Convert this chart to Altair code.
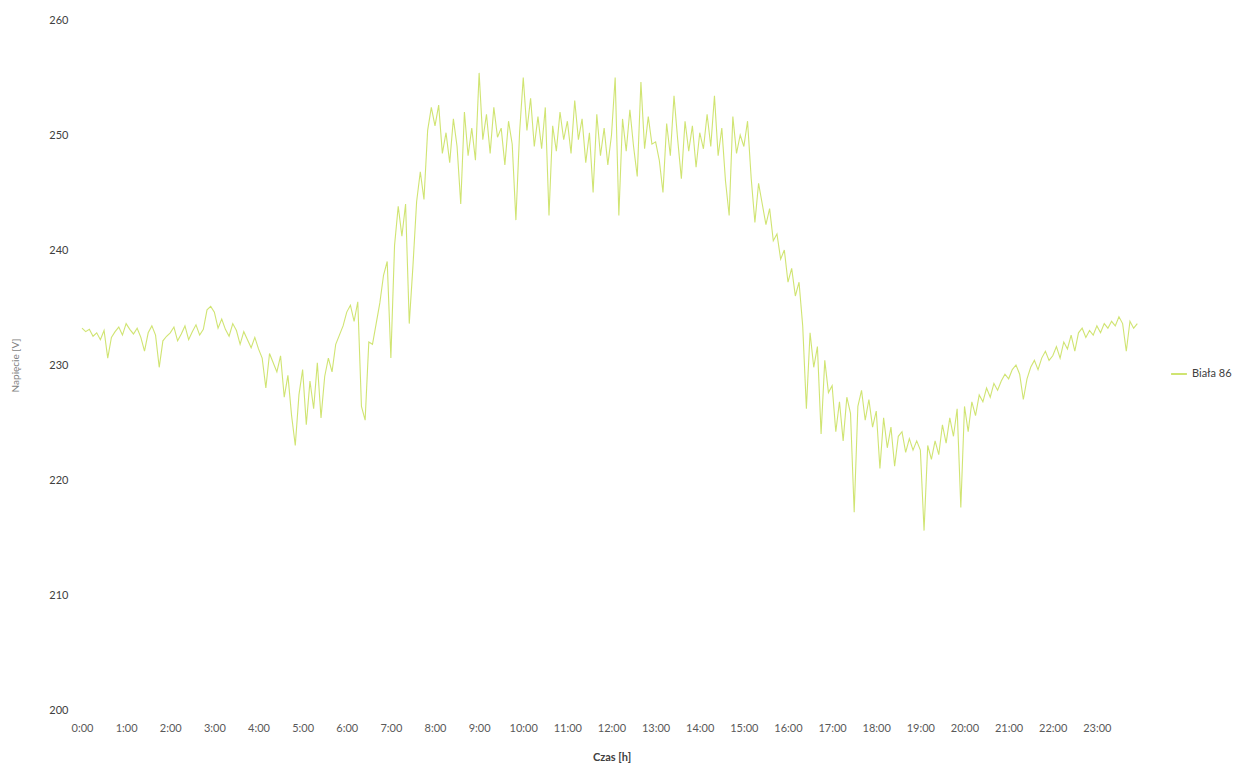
import altair as alt
import pandas as pd

# 5-minute readings, one list of 12 values per hour (0:00 ... 23:55)
h00 = [233.2, 232.9, 233.1, 232.5, 232.8, 232.2, 233.0, 230.6, 232.4, 232.9, 233.3, 232.6]
h01 = [233.6, 233.1, 232.7, 233.2, 232.4, 231.2, 232.8, 233.4, 232.6, 229.8, 232.1, 232.5]
h02 = [232.8, 233.3, 232.1, 232.7, 233.4, 232.2, 232.9, 233.5, 232.6, 233.1, 234.8, 235.1]
h03 = [234.6, 233.2, 234.0, 233.1, 232.5, 233.6, 233.0, 231.8, 232.9, 232.2, 231.5, 232.4]
h04 = [231.4, 230.6, 228.0, 231.0, 230.2, 229.4, 230.8, 227.2, 229.1, 225.6, 223.0, 227.4]
h05 = [229.6, 224.8, 228.6, 226.2, 230.2, 225.4, 229.0, 230.6, 229.4, 231.8, 232.6, 233.4]
h06 = [234.6, 235.2, 233.8, 235.5, 226.4, 225.2, 232.0, 231.8, 233.6, 235.4, 237.8, 239.0]
h07 = [230.6, 240.4, 243.8, 241.2, 244.0, 233.6, 238.6, 244.2, 246.8, 244.4, 250.4, 252.4]
h08 = [250.8, 252.6, 248.4, 250.2, 247.6, 251.4, 249.0, 244.0, 252.0, 248.2, 250.6, 247.8]
h09 = [255.4, 249.6, 251.8, 248.4, 252.4, 249.8, 250.6, 247.4, 251.2, 249.2, 242.6, 250.2]
h10 = [255.0, 250.4, 253.2, 249.0, 251.6, 248.8, 252.4, 243.0, 250.8, 248.6, 252.0, 249.6]
h11 = [251.2, 248.4, 253.0, 249.6, 251.4, 247.6, 250.2, 245.0, 251.8, 248.2, 250.6, 247.4]
h12 = [250.0, 255.0, 243.0, 251.4, 248.6, 252.2, 249.0, 246.4, 254.6, 248.8, 251.6, 249.2]
h13 = [249.4, 247.8, 245.0, 251.0, 248.2, 253.4, 249.6, 246.2, 251.2, 248.6, 250.8, 247.2]
h14 = [250.2, 248.8, 251.8, 249.0, 253.4, 248.2, 250.6, 246.0, 243.0, 251.6, 248.4, 250.0]
h15 = [249.0, 251.2, 246.2, 242.4, 245.8, 244.0, 242.2, 243.6, 240.8, 241.4, 239.2, 240.0]
h16 = [237.2, 238.4, 236.0, 237.2, 233.4, 226.2, 232.8, 229.8, 231.6, 224.0, 230.4, 227.6]
h17 = [228.2, 224.2, 226.8, 223.4, 227.2, 225.8, 217.2, 226.4, 227.8, 225.2, 227.0, 224.6]
h18 = [226.0, 221.0, 225.4, 222.8, 224.6, 221.2, 223.8, 224.2, 222.4, 223.6, 222.6, 223.4]
h19 = [222.6, 215.6, 223.0, 221.8, 223.4, 222.2, 224.8, 223.2, 225.4, 223.8, 226.2, 217.6]
h20 = [226.4, 224.2, 226.8, 225.6, 227.4, 226.8, 228.0, 227.2, 228.4, 227.8, 228.6, 229.2]
h21 = [228.8, 229.6, 230.0, 229.2, 227.0, 228.8, 229.8, 230.4, 229.6, 230.6, 231.2, 230.4]
h22 = [230.8, 231.6, 230.6, 232.0, 231.4, 232.6, 231.2, 232.8, 233.2, 232.4, 233.0, 232.6]
h23 = [233.4, 232.8, 233.6, 233.2, 233.8, 233.4, 234.2, 233.6, 231.2, 233.8, 233.2, 233.6]

hours = [h00, h01, h02, h03, h04, h05, h06, h07, h08, h09, h10, h11,
         h12, h13, h14, h15, h16, h17, h18, h19, h20, h21, h22, h23]
minutes = [0, 5, 10, 15, 20, 25, 30, 35, 40, 45, 50, 55]
hour_ticks = list(range(24))
series_name = "Biała 86"

rows = []
for h, vals in enumerate(hours):
    for m, v in zip(minutes, vals):
        rows.append({"t": h + m / 60.0, "v": v, "s": series_name})
df = pd.DataFrame(rows)

FONT = "Lato"

chart = alt.Chart(df).mark_line(strokeWidth=1.1, opacity=0.95).encode(
    x=alt.X("t:Q",
            scale=alt.Scale(domain=[0, 24], nice=False, zero=False),
            axis=alt.Axis(values=hour_ticks, labelExpr="datum.value + ':00'",
                          title="Czas [h]", grid=False, domain=False, ticks=False,
                          labelFlush=False, labelOverlap=False,
                          labelPadding=12, labelFontSize=11, labelColor="#595959",
                          labelFont=FONT, titleFont=FONT, titleFontSize=11,
                          titleFontWeight="bold", titleColor="#404040",
                          titlePadding=18)),
    y=alt.Y("v:Q",
            scale=alt.Scale(domain=[200, 260], nice=False, zero=False),
            axis=alt.Axis(values=[200, 210, 220, 230, 240, 250, 260],
                          title="Napięcie [V]", grid=False, domain=False, ticks=False,
                          labelFlush=False,
                          labelPadding=14, labelFontSize=11, labelColor="#404040",
                          labelFont=FONT, titleFont=FONT, titleFontSize=10,
                          titleFontWeight="normal", titleColor="#7f7f7f",
                          titlePadding=28)),
    color=alt.Color("s:N",
                    scale=alt.Scale(range=["#cde36a"]),
                    legend=alt.Legend(title=None, orient="none",
                                      legendX=1088, legendY=345,
                                      symbolType="stroke", symbolStrokeWidth=2,
                                      symbolSize=250, labelFont=FONT,
                                      labelFontSize=11, labelColor="#404040")),
).properties(
    width=1059, height=690,
    padding={"left": 82, "top": 20, "right": 96, "bottom": 58},
    autosize=alt.AutoSizeParams(type="none"),
    background="white",
).configure_view(stroke=None, strokeWidth=0)

chart.save("out.html", embed_options={"renderer": "svg", "actions": False})
